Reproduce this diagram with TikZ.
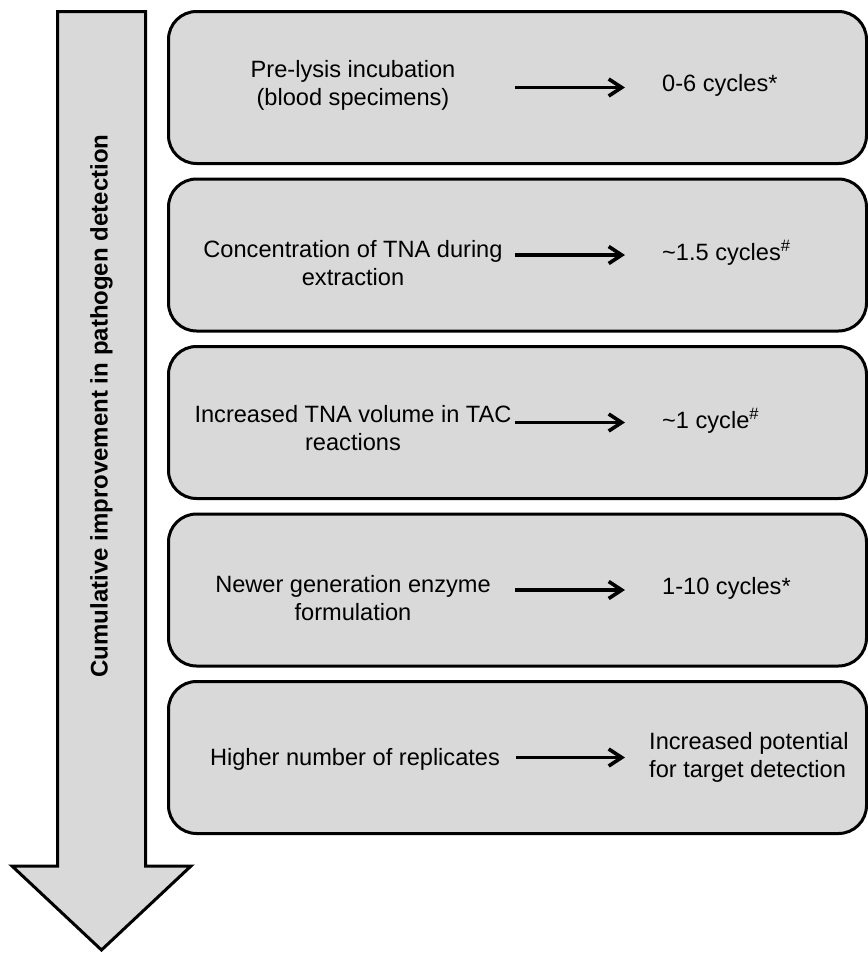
\documentclass[tikz,border=0pt]{standalone}
\usepackage{fontspec}
\setmainfont{Liberation Sans}
\usetikzlibrary{arrows.meta}

\definecolor{panelgray}{RGB}{217,217,217}
\tikzstyle{panel}=[draw,line width=3pt,fill=panelgray,rectangle,rounded corners=28pt,minimum width=698pt,minimum height=152pt,inner sep=0pt]
\tikzstyle{cause}=[align=center,inner sep=0pt,font=\fontsize{23.6}{28}\selectfont]
\tikzstyle{gain}=[anchor=west,align=left,inner sep=0pt,font=\fontsize{23.6}{28}\selectfont]
\tikzstyle{bigarrow}=[draw,line width=3pt,fill=panelgray,line join=miter]

\begin{document}
\begin{tikzpicture}[x=1pt,y=-1pt]
			\useasboundingbox (0,0) rectangle (868,954);
			% downward arrow on the left
			\draw[bigarrow] (57.5,11.5) -- (145.5,11.5) -- (145.5,866) -- (191,866) -- (101.5,950) -- (12,866) -- (57.5,866) -- cycle;
			\node (trend)[rotate=90,inner sep=0pt,font=\fontsize{24}{28}\selectfont\bfseries] at (101.5,406) {Cumulative improvement in pathogen detection};
			\begin{scope}[>={Straight Barb[length=13pt,width=17pt]}]
				\foreach \nr/\dy/\cause/\gain in {
					1/-2/{Pre-lysis incubation\\(blood specimens)}/{0-6 cycles*},
					2/8/{Concentration of TNA during\\extraction}/{\textasciitilde1.5 cycles\textsuperscript{\#}},
					3/6/{Increased TNA volume in TAC\\reactions}/{\textasciitilde1 cycle\textsuperscript{\#}},
					4/8/{Newer generation enzyme\\formulation}/{1-10 cycles*}}{
					\node (P\nr)[panel] at (517.5,{87.5+167.5*(\nr-1)}) {};
					\node (C\nr)[cause] at (353,{87.5+167.5*(\nr-1)+\dy}) {\cause};
					\node (G\nr)[gain] at (662,{85.5+167.5*(\nr-1)}) {\gain};
					\coordinate (S\nr) at (515,{87.5+167.5*(\nr-1)});
					\coordinate (T\nr) at (625,{87.5+167.5*(\nr-1)});
					\draw[->,line width=3.6pt] (S\nr) -- (T\nr);
				}
				% last step: replicates
				\node (P5)[panel] at (517.5,757.5) {};
				\node (C5)[cause] at (355,759) {Higher number of replicates};
				\node (G5)[gain] at (649,757.5) {Increased potential\\for target detection};
				\coordinate (S5) at (516,757.5);
				\coordinate (T5) at (625,757.5);
				\draw[->,line width=3.6pt] (S5) -- (T5);
			\end{scope}
		\end{tikzpicture}
\end{document}
